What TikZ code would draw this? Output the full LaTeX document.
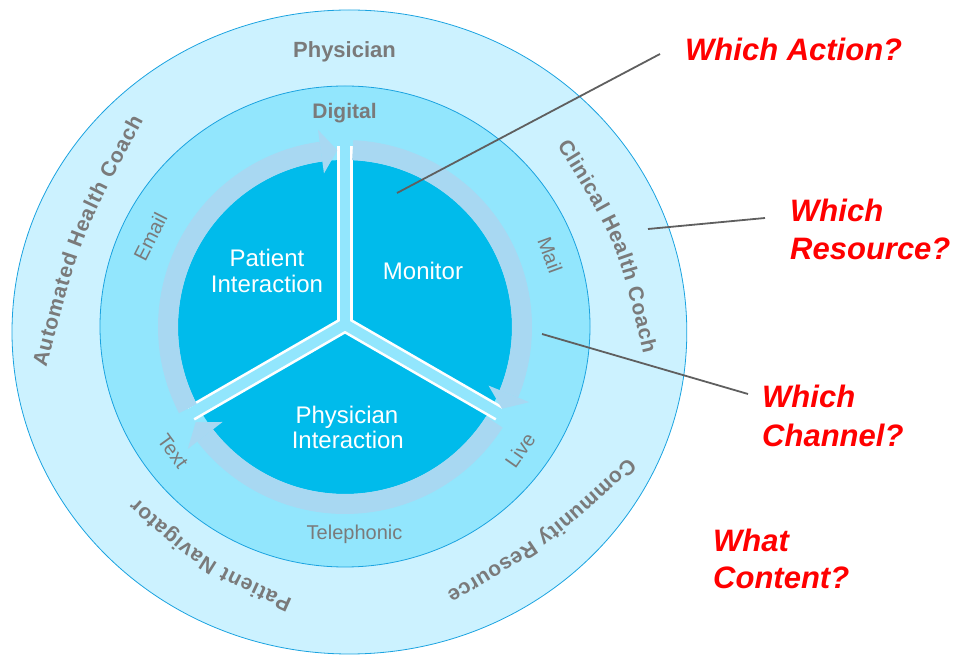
\documentclass[tikz,border=0pt]{standalone}
\usepackage{fontspec}
\setmainfont{Liberation Sans}
\usetikzlibrary{decorations.text}
\definecolor{outerfill}{HTML}{CCF2FF}
\definecolor{midfill}{HTML}{92E6FD}
\definecolor{bandcol}{HTML}{A8D8F2}
\definecolor{diskcol}{HTML}{00BBEB}
\definecolor{ringline}{HTML}{1BA3E0}
\definecolor{labelgray}{HTML}{7A7A7A}
\definecolor{qred}{HTML}{FF0000}
\definecolor{leader}{HTML}{5F5F5F}
\newcommand\outerlbl{\fontsize{21}{21}\selectfont\bfseries\color{labelgray}}
\begin{document}
\begin{tikzpicture}[x=1pt,y=1pt,
  ring/.style={draw=ringline, line width=0.8pt},
  band/.style={draw=bandcol, line width=20pt},
  spokeedge/.style={draw=white, line width=16pt},
  spokegap/.style={draw=midfill, line width=10.7pt},
  midlbl/.style={text=labelgray, font=\fontsize{20}{20}\selectfont, inner sep=0pt},
  toplbl/.style={text=labelgray, font=\fontsize{21}{21}\selectfont\bfseries, inner sep=0pt, anchor=base},
  inlbl/.style={text=white, font=\fontsize{24}{24}\selectfont, inner sep=0pt, anchor=base},
  question/.style={text=qred, font=\fontsize{31}{31}\selectfont\bfseries\itshape, inner sep=0pt, anchor=base west},
  leaderline/.style={draw=leader, line width=1.8pt},
]
\useasboundingbox (0,0) rectangle (961,656);
% rings
\draw[ring, fill=outerfill] (349.4,324) ellipse [x radius=337.4pt, y radius=322pt];
\draw[ring, fill=midfill] (345,329.5) ellipse [x radius=245pt, y radius=240.5pt];
\fill[diskcol] (345,329) circle [radius=167pt];
% spoke white edges
\begin{scope}[shift={(345,331.5)}]
  \foreach \a in {90,210,-30} \draw[spokeedge] (0,0) -- (\a:178);
\end{scope}
% arrow band
\begin{scope}[shift={(345,329)}]
  \draw[band] (87.5:177) arc [start angle=87.5, end angle=-22.2, radius=177pt];
  \draw[band] (-32.5:177) arc [start angle=-32.5, end angle=-142.2, radius=177pt];
  \draw[band] (207.5:177) arc [start angle=207.5, end angle=97.8, radius=177pt];
  \fill[bandcol] (-22.2:155) -- (-22.2:199) -- (-27.5:177) -- cycle;
  \fill[bandcol] (-142.2:155) -- (-142.2:199) -- (-147.5:177) -- cycle;
  \fill[bandcol] (97.8:155) -- (97.8:199) -- (92.5:177) -- cycle;
\end{scope}
% spoke gaps
\begin{scope}[shift={(345,331.5)}]
  \foreach \a in {90,210,-30} \draw[spokegap] (0,0) -- (\a:190);
\end{scope}
% outer ring labels
\node[toplbl, font=\fontsize{22}{22}\selectfont\bfseries] (physician) at (344.5,598) {Physician};
\path[decorate, decoration={text along path, text={|\outerlbl|Automated Health Coach}, text align=fit to path}]
  (46.4,288.5) .. controls (80.1,418) .. (143.3,535.6);
\path[decorate, decoration={text along path, text={|\outerlbl|Clinical Health Coach}, text align=fit to path}]
  (557.1,510.6) .. controls (616.9,413.5) .. (643.4,302.6);
\path[decorate, decoration={text along path, text={|\outerlbl|Community Resource}, text align=fit to path}]
  (628,198.7) .. controls (544.3,121.2) .. (446.3,63.1);
\path[decorate, decoration={text along path, text={|\outerlbl|Patient Navigator}, text align=fit to path}]
  (292.5,56.6) .. controls (207,95.4) .. (137,157.4);
% middle ring labels
\node[toplbl] (digital) at (344.5,537.7) {Digital};
\node[midlbl, rotate=63] (email) at (150.3,419.3) {Email};
\node[midlbl, rotate=-70] (mail) at (550,401) {Mail};
\node[midlbl, rotate=55] (live) at (520,206) {Live};
\node[midlbl, rotate=-54] (textlbl) at (173,205) {Text};
\node[midlbl, anchor=base] (tel) at (354.5,116) {Telephonic};
% inner labels
\node[inlbl] (pi1) at (267,389.3) {Patient};
\node[inlbl] (pi2) at (267,363.3) {Interaction};
\node[inlbl] (mon) at (423,376.7) {Monitor};
\node[inlbl] (ph1) at (347,232.7) {Physician};
\node[inlbl] (ph2) at (347.8,207) {Interaction};
% questions
\node[question] (qa) at (685,595) {Which Action?};
\node[question] (qr1) at (790,434) {Which};
\node[question] (qr2) at (790,396) {Resource?};
\node[question] (qc1) at (762,248) {Which};
\node[question] (qc2) at (762,209) {Channel?};
\node[question] (qw1) at (713,104) {What};
\node[question] (qw2) at (713,67) {Content?};
% leader lines
\coordinate (a1) at (397,463);
\coordinate (a2) at (660,602);
\coordinate (r1) at (648,427);
\coordinate (r2) at (765,438);
\coordinate (c1) at (542,322);
\coordinate (c2) at (748,262);
\draw[leaderline] (a1) -- (a2);
\draw[leaderline] (r1) -- (r2);
\draw[leaderline] (c1) -- (c2);
\end{tikzpicture}
\end{document}
